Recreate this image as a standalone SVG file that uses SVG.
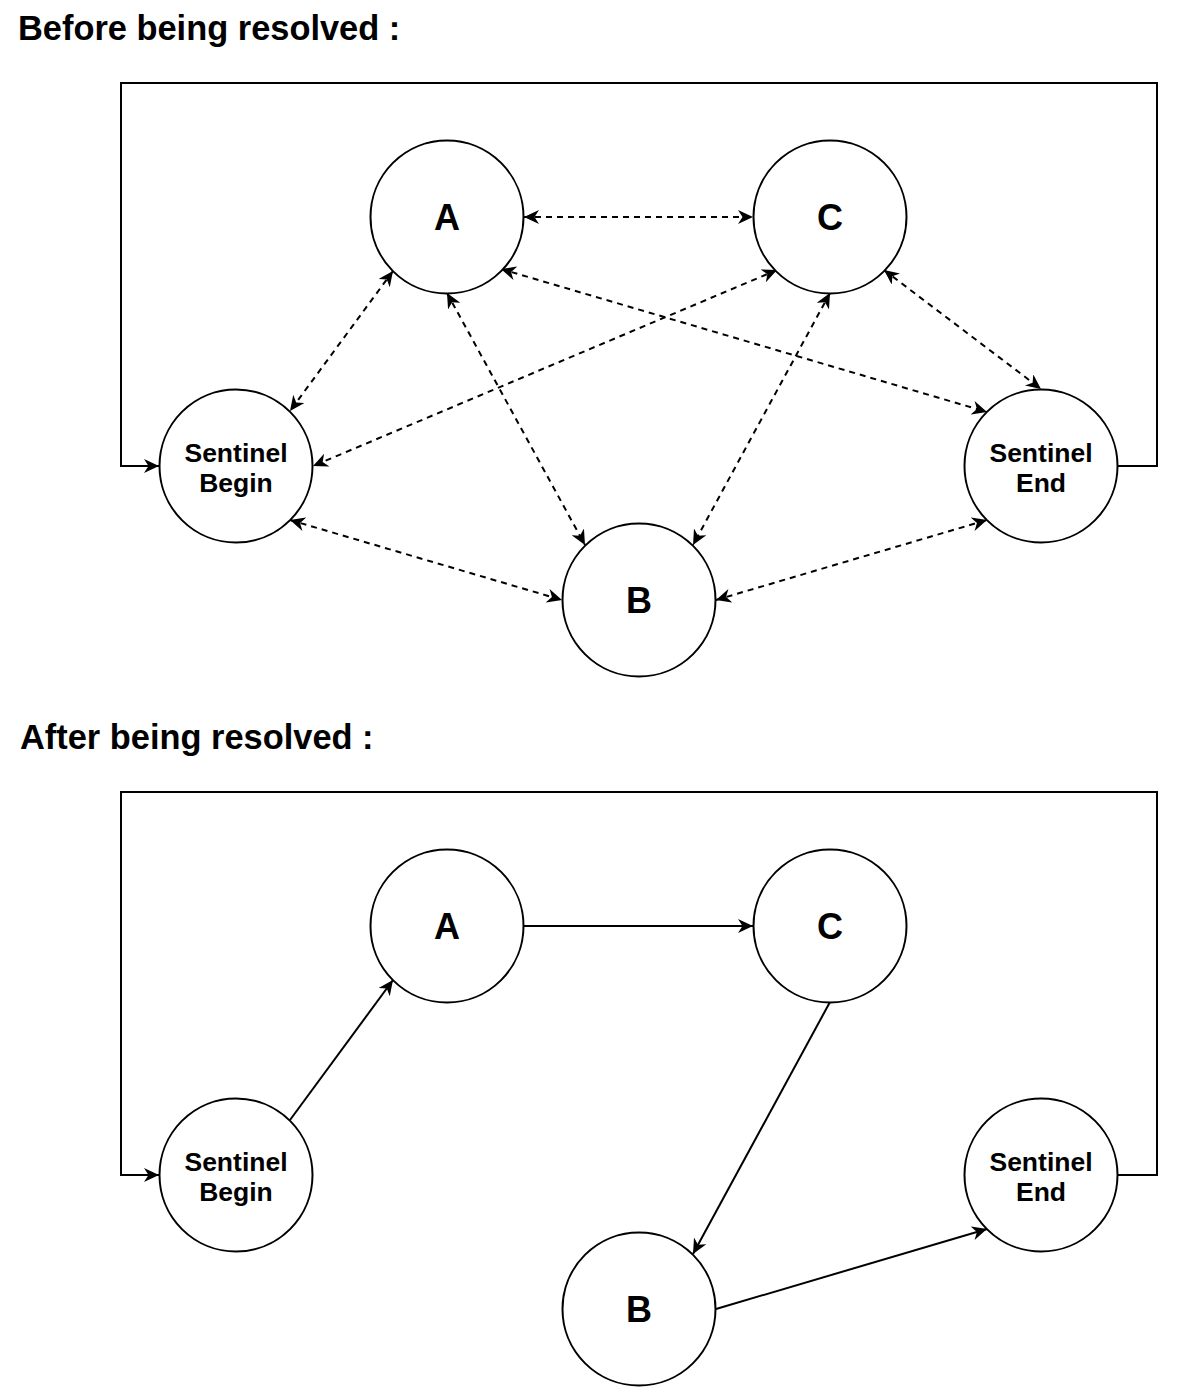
<svg xmlns="http://www.w3.org/2000/svg" width="1200" height="1398" viewBox="0 0 1200 1398">
<style>
.title{font-family:"Liberation Sans",Arial,sans-serif;font-weight:bold;font-size:34.4px;fill:#000}
.big{font-family:"Liberation Sans",Arial,sans-serif;font-weight:bold;font-size:36px;fill:#000;text-anchor:middle}
.small{font-family:"Liberation Sans",Arial,sans-serif;font-weight:bold;font-size:26.5px;fill:#000;text-anchor:middle}
circle{fill:#fff;stroke:#000;stroke-width:2}
.e{fill:none;stroke:#000;stroke-width:2}
.d{stroke-dasharray:6 5}
.de{marker-start:url(#ah);marker-end:url(#ah)}
.se{marker-end:url(#ah)}
</style>
<defs>
<marker id="ah" markerUnits="userSpaceOnUse" markerWidth="16" markerHeight="14" refX="15" refY="7" orient="auto-start-reverse" viewBox="0 0 16 14">
<path d="M0,0 L15,7 L0,14 L4.5,7 Z" fill="#000"/>
</marker>
</defs>
<rect width="1200" height="1398" fill="#fff"/>
<text class="title" x="18" y="40">Before being resolved :</text>
<text class="title" x="20" y="749">After being resolved :</text>

<g id="connectors-before">
<path class="e se" d="M1117,466 H1157 V83 H121 V466 H159"/>
<path class="e d de" d="M524,217 L753,217"/>
<path class="e d de" d="M393,271 L290,411"/>
<path class="e d de" d="M777,270 L313,466"/>
<path class="e d de" d="M501,269 L987,412"/>
<path class="e d de" d="M447,293 L585,545"/>
<path class="e d de" d="M830,293 L693,545"/>
<path class="e d de" d="M884,270 L1041,389"/>
<path class="e d de" d="M290,520 L562,600"/>
<path class="e d de" d="M716,600 L987,520"/>
</g>

<g id="A1"><circle cx="447" cy="217" r="76.5"/><text class="big" x="447" y="230">A</text></g>
<g id="C1"><circle cx="830" cy="217" r="76.5"/><text class="big" x="830" y="230">C</text></g>
<g id="SB1"><circle cx="236" cy="466" r="76.5"/><text class="small" x="236" y="462">Sentinel</text><text class="small" x="236" y="492">Begin</text></g>
<g id="SE1"><circle cx="1041" cy="466" r="76.5"/><text class="small" x="1041" y="462">Sentinel</text><text class="small" x="1041" y="492">End</text></g>
<g id="B1"><circle cx="639" cy="600" r="76.5"/><text class="big" x="639" y="613">B</text></g>

<g id="connectors-after">
<path class="e se" d="M1117,1175 H1157 V792 H121 V1175 H159"/>
<path class="e se" d="M290,1120 L393,980"/>
<path class="e se" d="M524,926 L753,926"/>
<path class="e se" d="M830,1002 L693,1254"/>
<path class="e se" d="M716,1309 L987,1229"/>
</g>

<g id="A2"><circle cx="447" cy="926" r="76.5"/><text class="big" x="447" y="939">A</text></g>
<g id="C2"><circle cx="830" cy="926" r="76.5"/><text class="big" x="830" y="939">C</text></g>
<g id="SB2"><circle cx="236" cy="1175" r="76.5"/><text class="small" x="236" y="1171">Sentinel</text><text class="small" x="236" y="1201">Begin</text></g>
<g id="SE2"><circle cx="1041" cy="1175" r="76.5"/><text class="small" x="1041" y="1171">Sentinel</text><text class="small" x="1041" y="1201">End</text></g>
<g id="B2"><circle cx="639" cy="1309" r="76.5"/><text class="big" x="639" y="1322">B</text></g>
</svg>
